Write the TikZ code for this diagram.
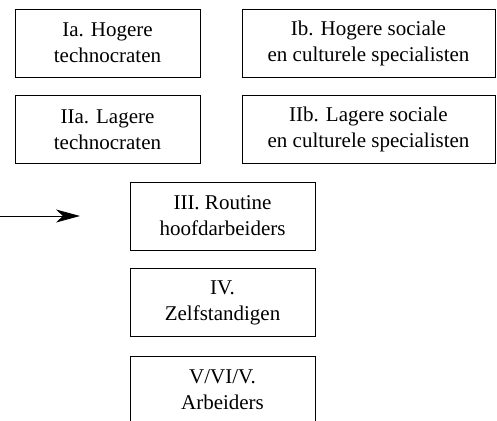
\documentclass[tikz,border=0pt]{standalone}
\usepackage{fontspec}
\setmainfont{Liberation Serif}
\usetikzlibrary{arrows.meta}
\begin{document}
\begin{tikzpicture}[x=1pt,y=-1pt,
  box/.style={draw, line width=0.9pt, align=center, font=\fontsize{21}{26}\selectfont, inner sep=0pt, minimum height=68pt},
  narrow/.style={box, minimum width=185pt},
  wide/.style={box, minimum width=253pt}]
\useasboundingbox (0,0) rectangle (497,420);
\node[narrow] (Ia) at (107.5,43) {Ia. Hogere\\technocraten};
\node[wide] (Ib) at (368.5,43) {Ib. Hogere sociale\\en culturele specialisten};
\node[narrow] (IIa) at (107.5,129.5) {IIa. Lagere\\technocraten};
\node[wide] (IIb) at (368.5,129.5) {IIb. Lagere sociale\\en culturele specialisten};
\node[narrow] (III) at (222.5,216) {III. Routine\\hoofdarbeiders};
\node[narrow] (IV) at (222.5,302.5) {IV.\\Zelfstandigen};
\node[narrow] (V) at (222.5,390) {V/VI/V.\\Arbeiders};
\coordinate (s) at (0,216);
\coordinate (e) at (80,216);
\draw[line width=0.9pt, -{Stealth[length=24pt,width=13pt,inset=7pt]}] (s) -- (e);
\end{tikzpicture}
\end{document}
